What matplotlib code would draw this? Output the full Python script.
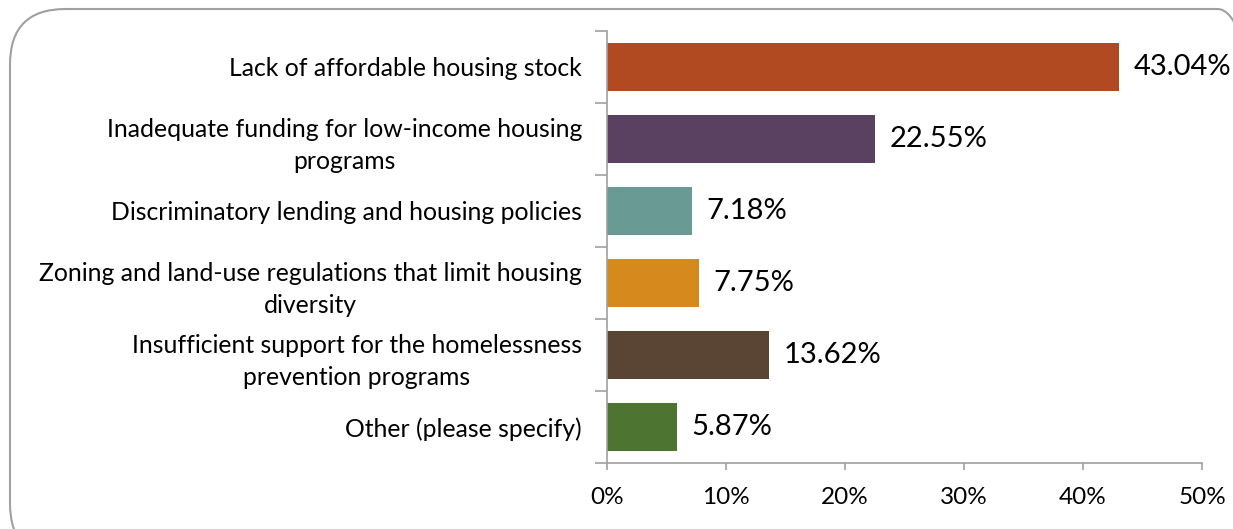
import matplotlib
matplotlib.use("Agg")
import matplotlib.pyplot as plt
from matplotlib.patches import FancyBboxPatch
from matplotlib.ticker import FuncFormatter, MultipleLocator, FixedLocator

categories = [
    "Lack of affordable housing stock",
    "Inadequate funding for low-income housing\nprograms",
    "Discriminatory lending and housing policies",
    "Zoning and land-use regulations that limit housing\ndiversity",
    "Insufficient support for the homelessness\nprevention programs",
    "Other (please specify)",
]
values = [43.04, 22.55, 7.18, 7.75, 13.62, 5.87]
colors = ["#B24A21", "#5A4161", "#6A9A94", "#D6891C", "#5A4535", "#4E7431"]

plt.rcParams["font.family"] = ["Lato", "DejaVu Sans"]

fig = plt.figure(figsize=(12.33, 5.29), dpi=100)
ax = fig.add_axes([0.4923, 0.1248, 0.9749 - 0.4923, 0.9414 - 0.1248])

n = len(categories)
ypos = list(range(n))
ax.barh(ypos, values, height=0.68, color=colors)
ax.set_ylim(n - 0.5, -0.5)
ax.set_xlim(0, 50)

for y, v in zip(ypos, values):
    ax.text(v + 1.2, y, f"{v:.2f}%", va="center", ha="left", fontsize=21, color="#000000")

ax.set_yticks(ypos)
ax.set_yticklabels(categories, fontsize=17.8, multialignment="center", linespacing=1.45)
ax.yaxis.set_minor_locator(FixedLocator([i - 0.5 for i in range(n + 1)]))
ax.tick_params(axis="y", which="major", length=0, pad=18)
ax.tick_params(axis="y", which="minor", length=9, color="#A0A0A0", width=1.2)

ax.xaxis.set_major_locator(MultipleLocator(10))
ax.xaxis.set_major_formatter(FuncFormatter(lambda x, _: f"{x:.0f}%"))
ax.tick_params(axis="x", length=5, color="#A0A0A0", width=1.2, labelsize=17.5, pad=12)

for side in ("top", "right"):
    ax.spines[side].set_visible(False)
for side in ("left", "bottom"):
    ax.spines[side].set_color("#A0A0A0")
    ax.spines[side].set_linewidth(1.2)

W, H = 1233, 529
border = FancyBboxPatch(
    (10 / W, -30 / H), (W + 30) / W, (H + 30 - 9) / H,
    boxstyle="round,pad=0,rounding_size=0.045",
    transform=fig.transFigure, facecolor="none", edgecolor="#A0A0A0",
    linewidth=1.5, mutation_aspect=W / H,
)
fig.patches.append(border)

fig.savefig("out.png", dpi=100)
